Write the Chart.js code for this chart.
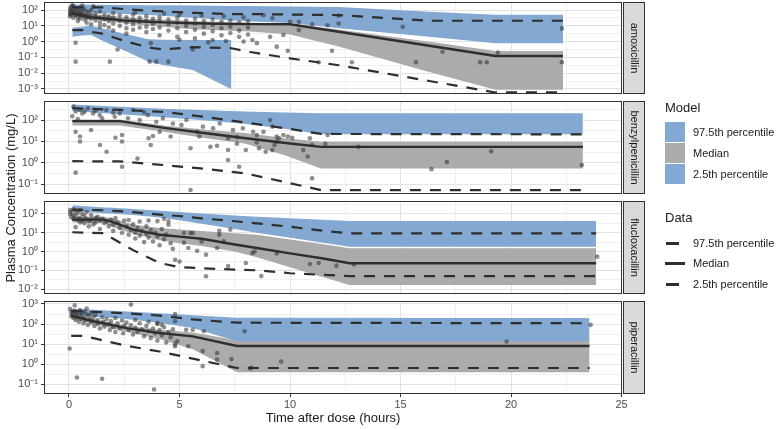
<!DOCTYPE html>
<html>
<head>
<meta charset="utf-8">
<script src="https://cdn.jsdelivr.net/npm/chart.js@4.4.0/dist/chart.umd.min.js"></script>
<style>
  html, body { margin: 0; padding: 0; background: #fff; }
  #wrap { position: relative; width: 776px; height: 429px; overflow: hidden; font-family: "Liberation Sans", Arial, sans-serif; color: #1a1a1a; }
  canvas { position: absolute; left: 0; }
  .txt { position: absolute; white-space: nowrap; }
  .key { position: absolute; }
</style>
</head>
<body>
<div id="wrap">
  <canvas id="c0"></canvas>
  <canvas id="c1"></canvas>
  <canvas id="c2"></canvas>
  <canvas id="c3"></canvas>

  <div class="txt" style="left:-139px;top:190px;width:300px;text-align:center;font-size:13px;line-height:16px;transform:rotate(-90deg);">Plasma Concentration (mg/L)</div>

  <div class="txt" style="left:665px;top:100px;font-size:13px;line-height:16px;">Model</div>
  <div class="key" style="left:665px;top:122px;width:20px;height:20px;background:rgb(131,169,210);"></div>
  <div class="key" style="left:665px;top:143px;width:20px;height:20px;background:rgb(171,171,171);"></div>
  <div class="key" style="left:665px;top:164px;width:20px;height:20px;background:rgb(131,169,210);"></div>
  <div class="txt" style="left:693px;top:125px;font-size:11px;line-height:14px;">97.5th percentile</div>
  <div class="txt" style="left:693px;top:146px;font-size:11px;line-height:14px;">Median</div>
  <div class="txt" style="left:693px;top:167px;font-size:11px;line-height:14px;">2.5th percentile</div>

  <div class="txt" style="left:665px;top:210px;font-size:13px;line-height:16px;">Data</div>
  <div class="key" style="left:666px;top:242px;width:13px;height:2.5px;background:#2e2e2e;"></div>
  <div class="key" style="left:665px;top:262px;width:20px;height:2.5px;background:#2e2e2e;"></div>
  <div class="key" style="left:666px;top:283px;width:13px;height:2.5px;background:#2e2e2e;"></div>
  <div class="txt" style="left:693px;top:236px;font-size:11px;line-height:14px;">97.5th percentile</div>
  <div class="txt" style="left:693px;top:256px;font-size:11px;line-height:14px;">Median</div>
  <div class="txt" style="left:693px;top:277px;font-size:11px;line-height:14px;">2.5th percentile</div>
</div>

<script>
const FONT = '"Liberation Sans", Arial, sans-serif';

// x axis
const xTicks = [0, 5, 10, 15, 20, 25];
const xTickLabels = ['0', '5', '10', '15', '20', '25'];
const xMinor = [2.5, 7.5, 12.5, 17.5, 22.5];

// amoxicillin
const amoxTime    = [0.15, 0.6, 1.0, 1.5, 2.5, 3.6, 4.3, 5.6, 7.35, 8.2, 10, 12.2, 16.3, 19.3, 22.35];
const amoxHiTop   = [224, 224, 219, 214, 209, 200, 200, 191, 182, 178, 170, 158, 79, 50, 50];
const amoxHiBot   = [79, 76, 71, 66, 56, 48, 42, 32, 22, 19, 15, 7.1, 2.0, 0.79, 0.79];
const amoxP975    = [148, 148, 148, 148, 115, 91, 81, 66, 56, 56, 52, 48, 21, 21, 21];
const amoxMedian  = [60, 45, 35, 30, 22, 18, 16.6, 14.5, 13.2, 12.9, 12.6, 4.2, 0.55, 0.123, 0.123];
const amoxGrayTop = [89, 71, 56, 48, 35.5, 28, 25, 20, 16.6, 15.8, 14.1, 5.9, 0.98, 0.25, 0.25];
const amoxGrayBot = [40, 32, 25, 21, 14.1, 10, 8.3, 6.0, 4.8, 4.3, 2.8, 0.49, 0.012, 0.00089, 0.00089];
const amoxP025    = [5.4, 5.4, 4.2, 3.2, 1.12, 0.42, 0.32, 0.45, 0.38, 0.22, 0.087, 0.032, 0.0032, 0.0006, 0.0006];
const amoxLoTime  = [0.15, 0.6, 1.0, 1.5, 2.5, 3.6, 4.3, 5.6, 7.35];
const amoxLoTop   = [7.9, 8.9, 10, 7.1, 3.2, 1.41, 1.32, 1.26, 1.26];
const amoxLoBot   = [2.0, 2.4, 2.6, 1.17, 0.27, 0.054, 0.032, 0.016, 0.00095];
const amoxYTicks  = [0.001, 0.01, 0.1, 1, 10, 100];
const amoxYLabels = ['10⁻³', '10⁻²', '10⁻¹', '10⁰', '10¹', '10²'];
const amoxObs = [
  [0.05,126],[0.05,79],[0.05,56],[0.05,40],[0.1,158],[0.1,100],[0.1,71],[0.1,50],
  [0.2,178],[0.2,89],[0.2,63],[0.2,32],[0.3,126],[0.3,79],[0.3,45],[0.4,100],[0.4,63],[0.4,35],[0.4,20],
  [0.5,141],[0.5,71],[0.5,50],[0.5,28],[0.6,89],[0.6,56],[0.6,40],[0.7,112],[0.7,50],[0.7,25],
  [0.8,79],[0.8,45],[0.8,32],[0.8,16],[0.9,71],[0.9,35],[1.0,100],[1.0,50],[1.0,28],[1.0,12.6],
  [1.2,63],[1.2,40],[1.2,22],[1.4,79],[1.4,32],[1.4,16],[1.4,8.9],[1.6,50],[1.6,25],[1.6,11.2],
  [1.8,40],[1.8,20],[1.8,7.9],[2.0,63],[2.0,32],[2.0,14],[2.0,5],[2.3,45],[2.3,22],[2.3,10],
  [2.6,35],[2.6,16],[2.6,7.1],[2.6,3.2],[2.9,50],[2.9,25],[2.9,12.6],[2.9,5.6],[3.2,32],[3.2,18],[3.2,7.9],
  [3.5,40],[3.5,20],[3.5,8.9],[3.5,4],[3.8,28],[3.8,14],[3.8,6.3],[4.1,35],[4.1,20],[4.1,7.9],[4.1,2.5],
  [4.5,25],[4.5,12.6],[4.5,5],[4.9,32],[4.9,16],[4.9,7.1],[4.9,2],[5.3,22],[5.3,10],[5.3,4],
  [5.7,28],[5.7,14],[5.7,5.6],[5.7,1.6],[6.1,20],[6.1,8.9],[6.1,3.2],[6.5,25],[6.5,11.2],[6.5,4.5],[6.5,1.26],
  [6.9,18],[6.9,7.1],[6.9,2.5],[7.3,22],[7.3,8.9],[7.3,3.5],[7.7,16],[7.7,5],[7.7,2],[8.1,20],[8.1,7.9],[8.1,2.8],
  [0.15,200],[0.6,190],[1.1,170],[4.3,60],[5.0,50],[6.0,45],[7.0,40],[7.9,35],[3.0,70],
  [5.0,1.3],[6.3,0.9],[7.1,1.1],[7.9,1.0],
  [0.3,0.054],[1.85,0.054],[3.65,0.054],[3.95,0.054],[4.5,0.054],[0.3,0.85],[2.2,0.32],[3.7,0.8],[5.6,0.32],
  [12.2,44],[12.2,14],[15.1,8.7],[16.9,0.23],[15.7,0.049],[18.6,0.049],[18.9,0.049],[19.4,0.2],[22.3,6.9],[22.3,0.049],
  [11.9,0.26],[12.8,0.049],[11.3,0.049],[9.9,0.26],[9.4,0.48],[9.7,2.6],[9.1,2.0],[8.3,1.26],[8.5,0.8],
  [10.4,18],[10.4,5.4],[10,18],[11.7,11],[11,12.6],[9.2,30],[8.8,48]
];

// benzylpenicillin
const benzTime    = [0.15, 2.3, 4.3, 6.2, 8.0, 9.8, 11.4, 23.25];
const benzHiTop   = [525, 417, 339, 288, 251, 224, 209, 209];
const benzHiBot   = [263, 186, 135, 95, 66, 38, 21.4, 21.4];
const benzP975    = [355, 295, 240, 138, 76, 41, 22.4, 21.4];
const benzMedian  = [89, 89, 43, 24, 14.1, 8.5, 5.6, 5.6];
const benzGrayTop = [105, 105, 56, 35.5, 25, 14.1, 9.8, 9.8];
const benzGrayBot = [56, 56, 28, 14.1, 7.9, 2.24, 0.55, 0.55];
const benzP025    = [1.2, 1.17, 0.79, 0.52, 0.32, 0.126, 0.054, 0.054];
const benzYTicks  = [0.1, 1, 10, 100];
const benzYLabels = ['10⁻¹', '10⁰', '10¹', '10²'];
const benzObs = [
  [0.2,420],[0.3,0.35],[0.3,28],[0.5,17],[0.5,10],[1.0,34],[1.4,6.8],[1.7,3.3],[2.1,15],[2.4,20],[2.4,10],[2.4,0.66],
  [3.1,1.6],[3.6,14],[3.7,6.8],[3.8,18],[4.1,28],[4.6,17],[5.5,4.8],[5.5,0.054],[5.8,28],[5.9,17],[6.4,5.6],[6.7,6.3],
  [7.2,14],[7.2,4],[7.2,1.35],[7.6,16],[7.6,7.9],[7.7,0.66],[8.0,4],[8.5,20],[8.5,8.9],
  [0.49,295],[0.71,245],[0.86,355],[1.09,204],[1.39,170],[1.69,295],[2.07,141],[2.29,204],[2.67,120],[2.9,295],
  [3.2,100],[3.57,170],[3.95,83],[4.25,120],[4.7,69],[5.09,59],[5.31,100],[6.06,49],[6.52,41],[6.82,69],[7.42,34],[7.87,41],[8.33,28],
  [0.3,250],[0.6,200],[1.2,260],[1.5,120],[2.0,220],[3.4,230],[0.15,150],[0.4,110],
  [9.1,100],[9.2,49],[8.8,28],[9.4,17],[9.5,14],[9.7,20],[9.9,17],[10.1,15],[9.3,6.8],[9.4,10],[8.6,4.8],[8.9,3.3],
  [9.2,4],[10.6,4],[10.8,2],[11,6.8],[10.9,14],[11,0.19],[11.6,7.8],[11.7,20],[13.1,5.6],[16.4,0.51],[17.1,1.1],[19.1,3.5],[23.2,0.8]
];

// flucloxacillin
const flucTime    = [0.15, 1.6, 2.0, 2.9, 4.1, 5.0, 6.0, 7.5, 8.5, 10.0, 11.5, 12.7, 23.85];
const flucHiTop   = [288, 224, 214, 182, 148, 126, 105, 83, 71, 59, 49, 43, 43];
const flucHiBot   = [138, 110, 102, 89, 66, 47, 30, 15.8, 10, 5.5, 2.95, 1.82, 1.82];
const flucP975    = [170, 158, 148, 126, 93, 78, 59, 41, 32, 21, 12.9, 9.3, 9.3];
const flucMedian  = [50, 50, 37, 14.8, 7.9, 6.3, 4.8, 2.4, 1.55, 0.81, 0.43, 0.24, 0.24];
const flucGrayTop = [71, 71, 56, 28, 17.8, 15.1, 12.6, 9.5, 7.9, 4.4, 2.45, 1.51, 1.51];
const flucGrayBot = [35.5, 32, 20, 8.9, 4.0, 2.8, 2.0, 1.0, 0.5, 0.148, 0.044, 0.0166, 0.0166];
const flucP025    = [10.7, 9.5, 4.8, 1.2, 0.25, 0.148, 0.132, 0.11, 0.102, 0.071, 0.058, 0.05, 0.05];
const flucYTicks  = [0.01, 0.1, 1, 10, 100];
const flucYLabels = ['10⁻²', '10⁻¹', '10⁰', '10¹', '10²'];
const flucObs = [
  [0.05,160],[0.05,100],[0.1,126],[0.1,70],[0.2,180],[0.2,89],[0.2,56],[0.3,141],[0.3,79],[0.3,20],[0.4,112],[0.4,50],
  [0.5,158],[0.5,63],[0.5,35],[0.6,100],[0.6,45],[0.7,79],[0.7,32],[0.8,126],[0.8,56],[0.9,40],[0.9,22],[1.0,89],[1.0,50],
  [1.1,28],[1.2,63],[1.2,35],[1.3,71],[1.4,45],[1.4,16],[1.5,56],[1.6,32],[1.7,40],[1.8,22],[1.9,50],[2.0,28],[2.0,12.6],
  [2.2,35],[2.3,18],[2.4,10],[2.5,45],[2.6,22],[2.7,7.9],[2.8,14],[2.9,28],[3.0,10],[3.0,5],[3.1,18],[3.2,7.1],[3.3,12.6],
  [3.4,3.2],[3.5,22],[3.5,8.9],[3.6,5.6],[3.7,14],[3.8,3.5],[3.9,10],[4.0,6.3],[4.1,2.2],[4.2,16],[4.3,4.5],[4.4,8],[4.5,27],[4.5,41],
  [4.6,2.8],[4.7,1.4],[2.1,60],[2.7,48],[3.2,40],[4.0,42],[3.6,45],[4.3,55],
  [4.8,0.37],[5.0,0.30],[6.2,0.049],[7.2,0.17],[8.0,0.25],[5.4,1.55],[5.8,1.1],[6.2,0.69],[6.7,1.55],[6.8,7.9],[7.0,3.5],
  [6.8,12.6],[7.3,14.8],[5.5,9.8],[5.6,9.8],[6.0,3.5],[8.3,0.85],[5.2,9.8],[5.2,3],
  [8.4,1.0],[9.4,0.81],[10.9,0.22],[11.3,0.25],[12.1,0.18],[12.9,0.21],[8.7,0.05],[23.9,0.54]
];

// piperacillin
const pipTime    = [0.1, 0.6, 1.1, 2.6, 4.1, 5.6, 7.6, 23.55];
const pipHiTop   = [589, 550, 513, 417, 347, 275, 209, 200];
const pipHiBot   = [295, 269, 240, 178, 112, 63, 14.1, 14.1];
const pipP975    = [437, 427, 407, 347, 263, 170, 117, 110];
const pipMedian  = [263, 191, 138, 63, 36, 24.5, 8.1, 8.1];
const pipGrayTop = [285, 230, 178, 83, 52, 38, 15.8, 15.8];
const pipGrayBot = [200, 141, 100, 42, 17.8, 5.6, 0.4, 0.4];
const pipP025    = [26, 26, 20, 8.3, 4.3, 1.9, 0.65, 0.65];
const pipYTicks  = [0.1, 1, 10, 100, 1000];
const pipYLabels = ['10⁻¹', '10⁰', '10¹', '10²', '10³'];
const pipObs = [
  [0.05,560],[0.1,400],[0.1,250],[0.15,320],[0.2,200],[0.25,450],[0.3,280],[0.3,160],[0.35,350],[0.4,220],[0.45,130],
  [0.5,500],[0.5,300],[0.55,180],[0.6,380],[0.6,240],[0.65,110],[0.7,420],[0.7,200],[0.75,150],[0.8,600],[0.8,300],[0.85,90],
  [0.9,250],[0.95,170],[1.0,350],[1.0,120],[1.1,210],[1.15,80],[1.2,280],[1.3,160],[1.3,100],[1.4,60],[1.5,220],[1.55,130],
  [1.6,75],[1.7,180],[1.8,100],[1.85,50],[1.9,140],[2.0,70],[2.1,200],[2.1,40],[2.2,110],[2.3,60],[2.4,150],[2.45,35],[2.5,85],
  [2.6,120],[2.7,50],[2.8,90],[2.9,30],[3.0,160],[3.0,65],[3.1,40],[3.2,110],[3.3,55],[3.4,25],[3.5,80],[3.6,45],[3.6,130],
  [3.7,20],[3.8,60],[3.9,35],[4.0,100],[4.0,15],[4.1,50],[4.2,28],[4.3,70],[4.4,12],[4.5,40],[4.6,22],[4.7,55],[4.8,10],
  [0.26,850],[2.8,930],[0.03,6],[0.36,0.22],[1.5,0.19],[3.85,0.055],[4.8,316],[4.8,138],[4.0,112],[4.2,93],[5.3,52],[5.6,52],
  [6.1,44],[7.95,44],[6.7,3.6],[6.7,1.7],[6.05,4.5],[6.05,0.8],[7.35,1.8],[5.4,7.9],[4.8,7.9],[4.9,14],[8.25,0.66],
  [19.8,13.5],[9.6,1.35],[8.2,0.63],[23.6,91]
];

const BLUE = 'rgb(131,169,210)';
const GRAY = 'rgb(171,171,171)';
const LINE = '#2e2e2e';
const DOT = 'rgba(50,50,50,0.55)';

const panels = [
  { label: 'amoxicillin', top: 2, h: 92, ymin: 0.00048, ymax: 324, yTicks: amoxYTicks, yLabels: amoxYLabels,
    time: amoxTime, hiTop: amoxHiTop, hiBot: amoxHiBot, p975: amoxP975, median: amoxMedian,
    grayTop: amoxGrayTop, grayBot: amoxGrayBot, p025: amoxP025, obs: amoxObs,
    lo: { time: amoxLoTime, top: amoxLoTop, bot: amoxLoBot } },
  { label: 'benzylpenicillin', top: 101, h: 93, ymin: 0.0354, ymax: 771, yTicks: benzYTicks, yLabels: benzYLabels,
    time: benzTime, hiTop: benzHiTop, hiBot: benzHiBot, p975: benzP975, median: benzMedian,
    grayTop: benzGrayTop, grayBot: benzGrayBot, p025: benzP025, obs: benzObs },
  { label: 'flucloxacillin', top: 201, h: 93, ymin: 0.0056, ymax: 490, yTicks: flucYTicks, yLabels: flucYLabels,
    time: flucTime, hiTop: flucHiTop, hiBot: flucHiBot, p975: flucP975, median: flucMedian,
    grayTop: flucGrayTop, grayBot: flucGrayBot, p025: flucP025, obs: flucObs },
  { label: 'piperacillin', top: 301, h: 93, ymin: 0.0329, ymax: 1409, yTicks: pipYTicks, yLabels: pipYLabels,
    time: pipTime, hiTop: pipHiTop, hiBot: pipHiBot, p975: pipP975, median: pipMedian,
    grayTop: pipGrayTop, grayBot: pipGrayBot, p025: pipP025, obs: pipObs }
];

function series(time, vals) {
  return time.map((t, i) => ({ x: t, y: vals[i] }));
}

// panel border + facet strip
const panelDeco = {
  id: 'panelDeco',
  afterDraw(chart, args, opts) {
    const { ctx, chartArea: a } = chart;
    ctx.save();
    ctx.strokeStyle = '#333333';
    ctx.lineWidth = 1;
    ctx.strokeRect(a.left + 0.5, a.top + 0.5, a.right - a.left - 1, a.bottom - a.top - 1);
    const sx = a.right + 1.5, sw = 21;
    ctx.fillStyle = '#d9d9d9';
    ctx.fillRect(sx, a.top + 0.5, sw, a.bottom - a.top - 1);
    ctx.strokeRect(sx, a.top + 0.5, sw, a.bottom - a.top - 1);
    ctx.translate(sx + sw / 2, (a.top + a.bottom) / 2);
    ctx.rotate(Math.PI / 2);
    ctx.fillStyle = '#1a1a1a';
    ctx.font = '11px ' + FONT;
    ctx.textAlign = 'center';
    ctx.textBaseline = 'middle';
    ctx.fillText(opts.label, 0, 0);
    ctx.restore();
  }
};

panels.forEach((p, idx) => {
  const isBottom = idx === panels.length - 1;
  const padTop = 8, padBot = isBottom ? 0 : 6, axisH = isBottom ? 35 : 0;
  const canvas = document.getElementById('c' + idx);
  canvas.width = 650;
  canvas.height = padTop + p.h + padBot + axisH;
  canvas.style.top = (p.top - padTop) + 'px';

  const datasets = [];
  const lineDs = (vals, dash, w) => ({
    type: 'line', data: series(p.time, vals), borderColor: LINE, borderWidth: w,
    borderDash: dash, pointRadius: 0, fill: false, tension: 0, order: 0
  });
  datasets.push(lineDs(p.p975, [11, 9], 2.2));
  datasets.push(lineDs(p.median, [], 2.4));
  datasets.push(lineDs(p.p025, [11, 9], 2.2));
  datasets.push({
    type: 'scatter', data: p.obs.map(([x, y]) => ({ x, y })), backgroundColor: DOT,
    borderWidth: 0, pointRadius: 2.3, order: 1
  });
  const band = (time, top, bot, color) => {
    const bi = datasets.length;
    datasets.push({ type: 'line', data: series(time, bot), borderWidth: 0, pointRadius: 0, fill: false, order: 2 });
    datasets.push({ type: 'line', data: series(time, top), borderWidth: 0, pointRadius: 0,
      backgroundColor: color, fill: { target: bi }, order: 2 });
  };
  band(p.time, p.hiTop, p.hiBot, BLUE);
  band(p.time, p.grayTop, p.grayBot, GRAY);
  if (p.lo) band(p.lo.time, p.lo.top, p.lo.bot, BLUE);

  const yMinor = p.yTicks.concat([p.yTicks[0] / 10]).map(v => v * Math.sqrt(10))
    .filter(v => v > p.ymin && v < p.ymax);
  const yAll = p.yTicks.concat(yMinor).sort((a, b) => a - b);
  const yMajor = v => p.yTicks.indexOf(v) >= 0;
  const xMajor = v => xTicks.indexOf(v) >= 0;

  new Chart(canvas.getContext('2d'), {
    type: 'scatter',
    data: { datasets },
    plugins: [panelDeco],
    options: {
      responsive: false,
      animation: false,
      events: [],
      layout: { padding: { top: padTop, bottom: padBot, left: 0, right: 28 } },
      plugins: { legend: { display: false }, tooltip: { enabled: false }, panelDeco: { label: p.label } },
      scales: {
        x: {
          type: 'linear', min: -1.13, max: 25.02,
          afterBuildTicks: s => { s.ticks = xTicks.concat(xMinor).sort((a, b) => a - b).map(v => ({ value: v })); },
          afterFit: s => { s.height = axisH; s.paddingLeft = 0; s.paddingRight = 0; },
          border: { display: false },
          grid: {
            color: c => (c.tick && xMajor(c.tick.value)) ? '#e3e3e3' : '#f0f0f0',
            lineWidth: 1,
            drawTicks: isBottom, tickLength: 3,
            tickColor: c => (c.tick && xMajor(c.tick.value)) ? '#333333' : 'rgba(0,0,0,0)'
          },
          ticks: {
            display: isBottom, autoSkip: false, maxRotation: 0, padding: 1,
            color: '#4d4d4d', font: { family: FONT, size: 11 },
            callback: v => { const i = xTicks.indexOf(v); return i >= 0 ? xTickLabels[i] : ''; }
          },
          title: {
            display: isBottom, text: 'Time after dose (hours)', color: '#1a1a1a',
            font: { family: FONT, size: 13 }, padding: { top: 0, bottom: 3 }
          }
        },
        y: {
          type: 'logarithmic', min: p.ymin, max: p.ymax,
          afterBuildTicks: s => { s.ticks = yAll.map(v => ({ value: v })); },
          afterFit: s => { s.width = 44; s.paddingTop = 0; s.paddingBottom = 0; },
          border: { display: false },
          grid: {
            color: c => (c.tick && yMajor(c.tick.value)) ? '#e3e3e3' : '#f0f0f0',
            lineWidth: 1,
            drawTicks: true, tickLength: 3,
            tickColor: c => (c.tick && yMajor(c.tick.value)) ? '#333333' : 'rgba(0,0,0,0)'
          },
          ticks: {
            autoSkip: false, padding: 3, color: '#4d4d4d', font: { family: FONT, size: 11 },
            callback: v => { const i = p.yTicks.indexOf(v); return i >= 0 ? p.yLabels[i] : ''; }
          }
        }
      }
    }
  });
});
</script>
</body>
</html>
